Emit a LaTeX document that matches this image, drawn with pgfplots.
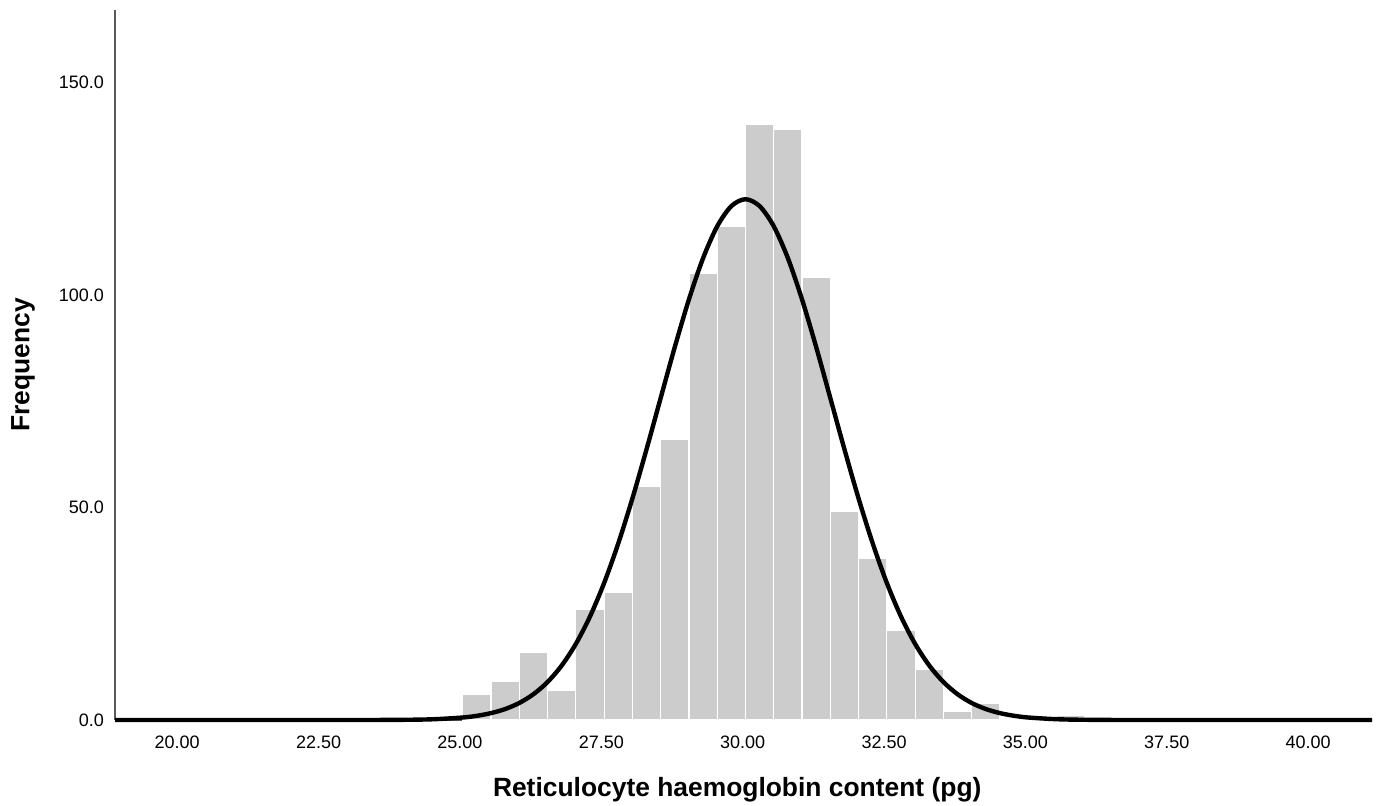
\documentclass[border=0pt]{standalone}
\usepackage{pgfplots}
\pgfplotsset{compat=1.18}
\usepackage{fontspec}
\setmainfont{Liberation Sans}

\definecolor{barfill}{HTML}{CCCCCC}

% histogram counts, bins of 0.5 pg (left edges)
\pgfplotstableread{
x     n
25.05 6
25.55 9
26.05 16
26.55 7
27.05 26
27.55 30
28.05 55
28.55 66
29.05 105
29.55 116
30.05 140
30.55 139
31.05 104
31.55 49
32.05 38
32.55 21
33.05 12
33.55 2
34.05 4
34.55 0
35.05 0
35.55 1
36.05 0
}\hist

% fitted normal curve
\pgfplotstableread{
x     f
18.90 0
23.05 0.003
24.05 0.056
24.55 0.19
25.05 0.59
25.30 0.99
25.55 1.62
25.80 2.58
26.05 4.01
26.30 6.07
26.55 8.94
26.80 12.82
27.05 17.90
27.30 24.34
27.55 32.22
27.80 41.53
28.05 52.11
28.30 63.67
28.55 75.74
28.80 87.73
29.05 98.93
29.30 108.63
29.55 116.13
29.80 120.88
30.05 122.50
30.30 120.88
30.55 116.13
30.80 108.63
31.05 98.93
31.30 87.73
31.55 75.74
31.80 63.67
32.05 52.11
32.30 41.53
32.55 32.22
32.80 24.34
33.05 17.90
33.30 12.82
33.55 8.94
33.80 6.07
34.05 4.01
34.30 2.58
34.55 1.62
34.80 0.99
35.05 0.59
35.55 0.19
36.05 0.056
37.05 0.003
41.13 0
}\curve

\begin{document}
\begin{tikzpicture}
  \begin{axis}[
      name=main,
      scale only axis, width=628.5pt, height=355pt,
      xmin=18.9, xmax=41.13, ymin=0, ymax=167,
      axis lines*=left,
      axis line style={black!65, line width=0.7pt},
      clip=false,
      xtick={20,22.5,25,27.5,30,32.5,35,37.5,40},
      ytick={0,50,100,150},
      major tick length=0pt,
      xticklabel={\pgfmathprintnumber[fixed,fixed zerofill,precision=2,assume math mode=true]{\tick}},
      yticklabel={\pgfmathprintnumber[fixed,fixed zerofill,precision=1,assume math mode=true]{\tick}},
      tick label style={font=\fontsize{9}{10}\selectfont},
      xticklabel style={yshift=-4.5pt},
      yticklabel style={xshift=-2pt},
      xlabel={Reticulocyte haemoglobin content (pg)},
      ylabel={Frequency},
      label style={font=\fontsize{13.2}{15}\selectfont\bfseries},
      xlabel style={at={(axis description cs:0.495,-0.0986)}, anchor=center},
      ylabel style={at={(axis description cs:-0.0732,0.5)}, anchor=center},
    ]
    \addplot[ybar interval, fill=barfill, draw=white, line width=0.6pt] table[x=x, y=n] {\hist};
    \addplot[black, line width=2.2pt, smooth, line join=round] table[x=x, y=f] {\curve};
  \end{axis}
  \pgfresetboundingbox
  \path[use as bounding box] ([xshift=-57.5pt,yshift=-42.5pt]main.south west) rectangle ([xshift=3.5pt,yshift=5pt]main.north east);
\end{tikzpicture}
\end{document}
